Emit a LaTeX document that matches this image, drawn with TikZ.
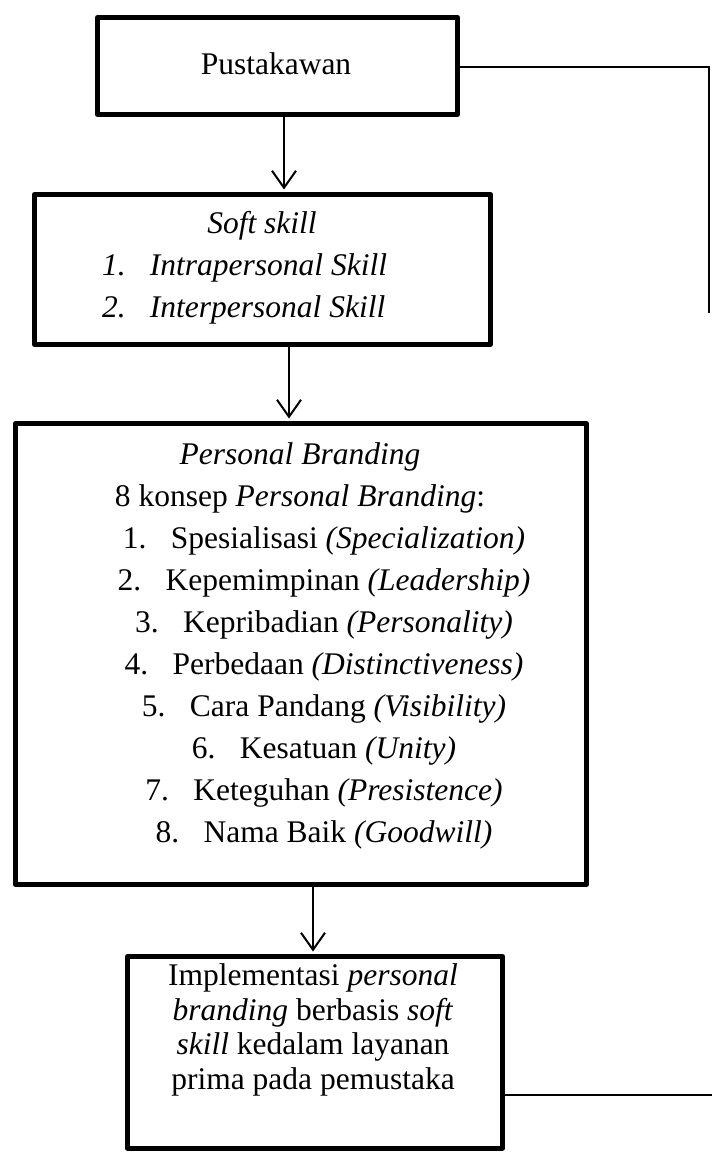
\documentclass[tikz,border=0pt]{standalone}
\usepackage{fontspec}
\setmainfont{Liberation Serif}
\usetikzlibrary{arrows.meta}
\begin{document}
\begin{tikzpicture}[x=1pt,y=-1pt,
  box/.style={draw, line width=5pt, line join=round, inner sep=0pt, rectangle},
  txt/.style={inner sep=0pt, align=center, anchor=base, font=\fontsize{31.5pt}{42pt}\selectfont},
  arr/.style={line width=2pt, -{Straight Barb[length=17pt,width=24pt]}, shorten >=2.5pt},
  link/.style={line width=1.8pt}]
\useasboundingbox (0,0) rectangle (712,1152);
% boxes
\node[box, minimum width=360pt, minimum height=97pt] (b1) at (277.5,66) {};
\node[box, minimum width=456pt, minimum height=150pt] (b2) at (262.5,269.5) {};
\node[box, minimum width=571pt, minimum height=461pt] (b3) at (301,654) {};
\node[box, minimum width=375pt, minimum height=191.5pt] (b4) at (315,1052.25) {};
% texts (anchor base = baseline of the last line)
\node[txt] (t1) at (276,74) {Pustakawan};
\node[txt] (t2) at (262,317) {\textit{Soft skill}\\
  \makebox[320pt][l]{\makebox[48pt][l]{\textit{1.}}\textit{Intrapersonal Skill}}\\
  \makebox[320pt][l]{\makebox[48pt][l]{\textit{2.}}\textit{Interpersonal Skill}}};
\node[txt] (t3) at (300,842) {\textit{Personal Branding}\\
  8 konsep \textit{Personal Branding}:\\
  \hspace*{48pt}\makebox[48pt][l]{1.}Spesialisasi \textit{(Specialization)}\\
  \hspace*{48pt}\makebox[48pt][l]{2.}Kepemimpinan \textit{(Leadership)}\\
  \hspace*{48pt}\makebox[48pt][l]{3.}Kepribadian \textit{(Personality)}\\
  \hspace*{48pt}\makebox[48pt][l]{4.}Perbedaan \textit{(Distinctiveness)}\\
  \hspace*{48pt}\makebox[48pt][l]{5.}Cara Pandang \textit{(Visibility)}\\
  \hspace*{48pt}\makebox[48pt][l]{6.}Kesatuan \textit{(Unity)}\\
  \hspace*{48pt}\makebox[48pt][l]{7.}Keteguhan \textit{(Presistence)}\\
  \hspace*{48pt}\makebox[48pt][l]{8.}Nama Baik \textit{(Goodwill)}};
\node[txt, font=\fontsize{31.5pt}{34.5pt}\selectfont] (t4) at (313,1089) {Implementasi \textit{personal}\\
  \textit{branding} berbasis \textit{soft}\\
  \textit{skill} kedalam layanan\\
  prima pada pemustaka};
% connectors
\coordinate (a1) at (284,0);
\coordinate (a2) at (289,0);
\coordinate (a3) at (313,0);
\draw[arr] (b1.south -| a1) -- (b2.north -| a1);
\draw[arr] (b2.south -| a2) -- (b3.north -| a2);
\draw[arr] (b3.south -| a3) -- (b4.north -| a3);
\coordinate (r1) at (709,67);
\coordinate (r2) at (709,313);
\coordinate (r3) at (712,1095);
\draw[link] (b1.east |- r1) -- (r1) -- (r2);
\draw[link] (b4.east |- r3) -- (r3);
\end{tikzpicture}
\end{document}
